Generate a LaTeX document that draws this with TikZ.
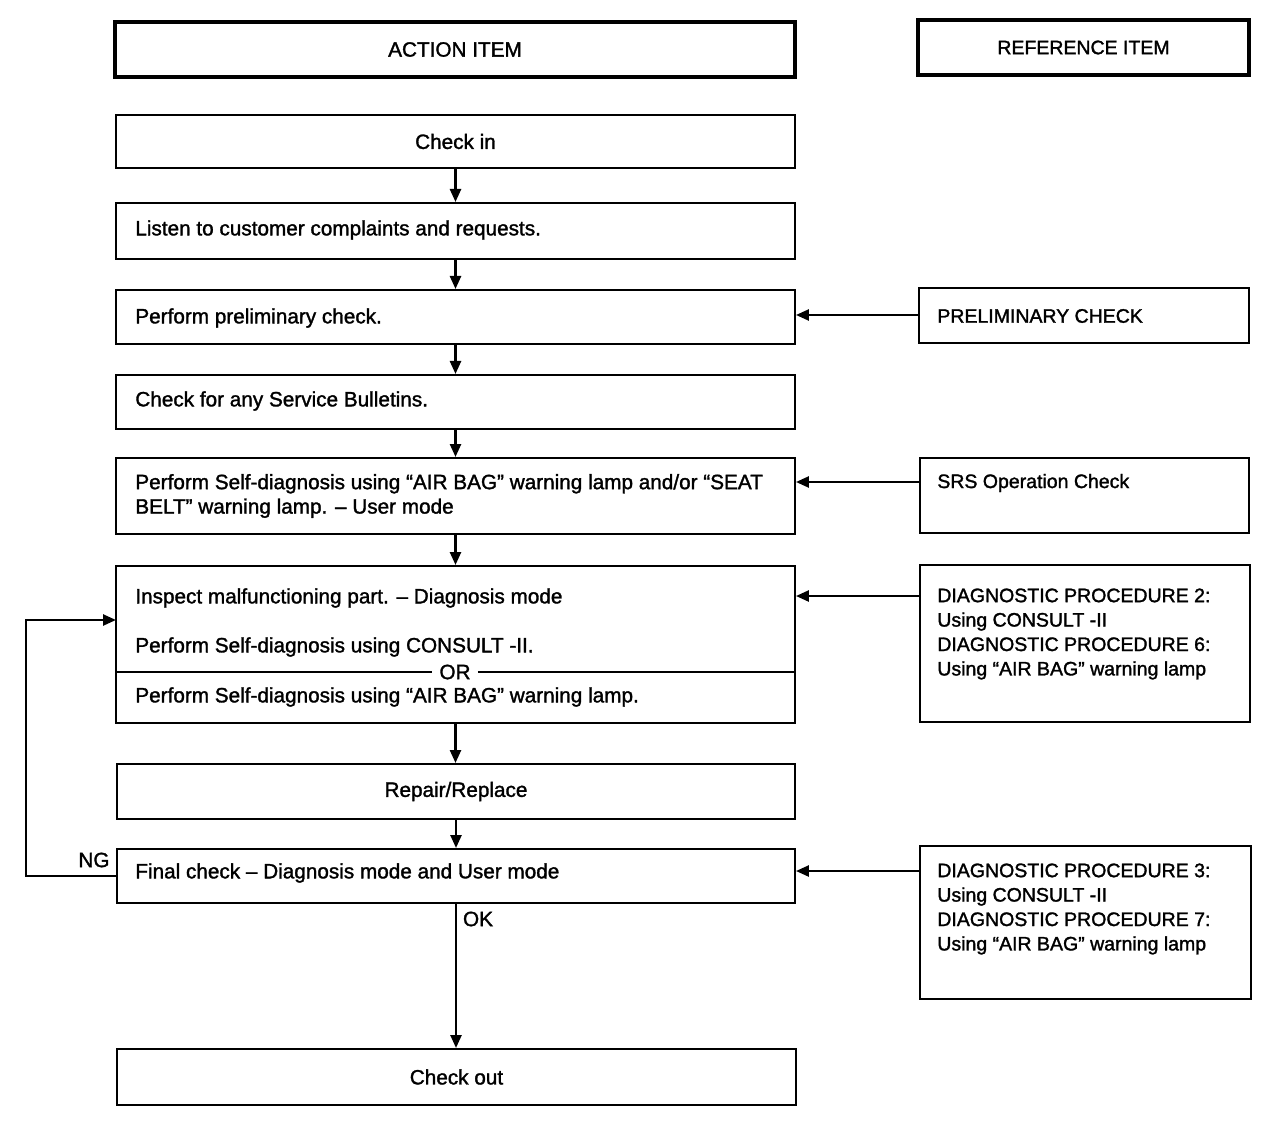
\documentclass[tikz,border=0pt]{standalone}
\usepackage{fontspec}
\setmainfont{Liberation Sans}[BoldFont=Liberation Sans, BoldFeatures={FakeBold=1.5}]
\usetikzlibrary{arrows.meta}
\begin{document}
\begin{tikzpicture}[x=0.02cm,y=-0.02cm,
  every node/.style={font=\fontsize{11.8}{13.9}\selectfont\bfseries},
  box/.style={draw, line width=1.15pt, inner sep=0pt},
  hbox/.style={draw, line width=1.8pt, inner sep=0pt},
  txt/.style={anchor=west, align=left, inner sep=0pt},
  rtxt/.style={txt, font=\fontsize{11.1}{13.9}\selectfont\bfseries},
  arr/.style={line width=1.4pt, -{Triangle[length=0.26cm,width=0.22cm]}},
  ln/.style={line width=1.5pt}]
\useasboundingbox (0,0) rectangle (1280,1128);
% headers
\node[hbox, minimum width=13.6cm, minimum height=1.1cm] (hA) at (455,49.5) {ACTION ITEM};
\node[hbox, minimum width=6.62cm, minimum height=1.1cm, font=\fontsize{11.1}{13.9}\selectfont\bfseries] (hR) at (1083.5,47.5) {REFERENCE ITEM};
% action boxes
\node[box, minimum width=13.58cm, minimum height=1.06cm] (b1) at (455.5,141.5) {Check in};
\node[box, minimum width=13.58cm, minimum height=1.12cm] (b2) at (455.5,231) {};
\node[box, minimum width=13.58cm, minimum height=1.08cm] (b3) at (455.5,317) {};
\node[box, minimum width=13.58cm, minimum height=1.08cm] (b4) at (455.5,402) {};
\node[box, minimum width=13.58cm, minimum height=1.52cm] (b5) at (455.5,496) {};
\node[box, minimum width=13.58cm, minimum height=3.14cm] (b6) at (455.5,644.5) {};
\node[box, minimum width=13.56cm, minimum height=1.1cm] (b7) at (456,791.5) {Repair/Replace};
\node[box, minimum width=13.56cm, minimum height=1.08cm] (b8) at (456,876) {};
\node[box, minimum width=13.58cm, minimum height=1.12cm] (b9) at (456.5,1077) {Check out};
% reference boxes
\node[box, minimum width=6.6cm, minimum height=1.1cm] (r3) at (1084,315.5) {};
\node[box, minimum width=6.58cm, minimum height=1.5cm] (r5) at (1084.5,495.5) {};
\node[box, minimum width=6.6cm, minimum height=3.14cm] (r6) at (1085,643.5) {};
\node[box, minimum width=6.62cm, minimum height=3.06cm] (r8) at (1085.5,922.5) {};
% action texts
\node[txt] (t2) at (135,230) {Listen to customer complaints and requests.};
\node[txt] (t3) at (135,318) {Perform preliminary check.};
\node[txt] (t4) at (135,401) {Check for any Service Bulletins.};
\node[txt] (t5) at (135,496) {Perform Self-diagnosis using “AIR BAG” warning lamp and/or “SEAT\\BELT” warning lamp. -- User mode};
\node[txt] (t6a) at (135,598) {Inspect malfunctioning part. -- Diagnosis mode};
\node[txt] (t6b) at (135,647) {Perform Self-diagnosis using CONSULT -II.};
\node[txt] (t6c) at (135,697) {Perform Self-diagnosis using “AIR BAG” warning lamp.};
\node[txt] (t8) at (135,873) {Final check -- Diagnosis mode and User mode};
% OR divider
\node[fill=white, inner xsep=4pt, inner ysep=1pt] (or) at (455,672) {OR};
\draw[ln] (b6.west |- or) -- (or.west);
\draw[ln] (or.east) -- (b6.east |- or);
% reference texts
\node[rtxt] (u3) at (937,316) {PRELIMINARY CHECK};
\node[rtxt] (u5) at (937,483) {SRS Operation Check};
\node[rtxt] (u6) at (937,634) {DIAGNOSTIC PROCEDURE 2:\\Using CONSULT -II\\DIAGNOSTIC PROCEDURE 6:\\Using “AIR BAG” warning lamp};
\node[rtxt] (u8) at (937,909) {DIAGNOSTIC PROCEDURE 3:\\Using CONSULT -II\\DIAGNOSTIC PROCEDURE 7:\\Using “AIR BAG” warning lamp};
% vertical flow
\draw[arr] (b1.south) -- (b1.south |- b2.north);
\draw[arr] (b2.south) -- (b2.south |- b3.north);
\draw[arr] (b3.south) -- (b3.south |- b4.north);
\draw[arr] (b4.south) -- (b4.south |- b5.north);
\draw[arr] (b5.south) -- (b5.south |- b6.north);
\draw[arr] (b6.south) -- (b6.south |- b7.north);
\draw[arr] (b7.south) -- (b7.south |- b8.north);
\draw[arr] (b8.south) -- (b8.south |- b9.north);
% horizontal reference arrows
\path (r3.north west) ++(0,28) coordinate (a3);
\path (r5.north west) ++(0,25) coordinate (a5);
\path (r6.north west) ++(0,32) coordinate (a6);
\path (r8.north west) ++(0,26) coordinate (a8);
\draw[arr] (a3) -- (a3 -| b3.east);
\draw[arr] (a5) -- (a5 -| b5.east);
\draw[arr] (a6) -- (a6 -| b6.east);
\draw[arr] (a8) -- (a8 -| b8.east);
% NG loop
\coordinate (fb) at (116,620);
\draw[arr] (b8.west) -- ++(-90,0) |- (fb);
\node (ng) at (94,860) {NG};
\node (ok) at (478,919) {OK};
\end{tikzpicture}
\end{document}
